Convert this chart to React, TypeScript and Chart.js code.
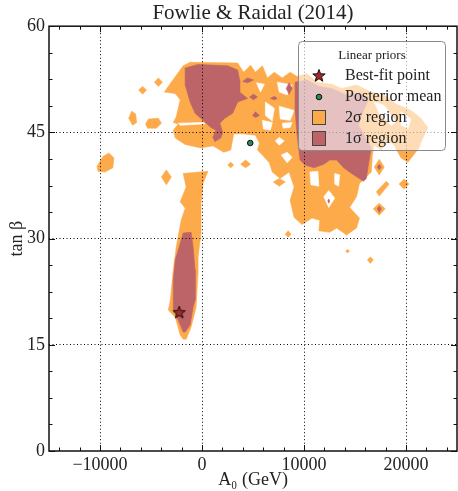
import React, { useEffect, useRef } from "react";
import { Chart, registerables } from "chart.js";

Chart.register(...registerables);

type Pt = [number, number];

// ---- axis ticks ----
const xMajorTicks = [-10000, 0, 10000, 20000];
const yMajorTicks = [0, 15, 30, 45, 60];
const xMinorStep = 2000;
const yMinorStep = 3.75;

// ---- markers ----
const bestFit: Pt = [-2233, 19.6];
const posteriorMean: Pt = [4730, 43.5];

// ---- 2 sigma region (orange) ----
const sigma2Main: Pt[] = [
  [-3690, 50.7], [-3010, 52.1], [-1845, 54.4], [-1165, 54.9], [3495, 54.8], [4078, 53.5],
  [4757, 54.5], [5243, 53.5], [5922, 54.4], [6408, 52.7], [7088, 53.5], [7864, 52.7],
  [8641, 53.5], [9320, 52.9], [10291, 53.3], [11262, 52.1], [12719, 51.8], [13690, 51.2],
  [15146, 51.7], [16602, 50.7], [18059, 50.1], [19030, 49.0], [20486, 48.1], [21457, 47.0],
  [22136, 45.7], [21554, 43.9], [21263, 42.8], [20194, 40.8], [19515, 41.4], [18835, 43.2],
  [18253, 43.9], [17573, 42.5], [16894, 43.2], [16700, 41.8], [16602, 39.4], [15437, 37.8],
  [15146, 35.9], [14466, 34.4], [15437, 32.9], [15146, 31.5], [14175, 30.5], [13204, 31.5],
  [12524, 30.9], [11456, 31.1], [11553, 32.6], [10777, 32.9], [9806, 32.0], [9029, 33.0],
  [8641, 35.4], [9029, 37.3], [8544, 39.4], [7670, 38.5], [6893, 39.4], [6602, 40.7],
  [5922, 41.8], [5437, 42.5], [5631, 43.5], [5243, 44.6], [3981, 44.8], [3107, 44.8],
  [2816, 42.5], [2136, 42.2], [1068, 43.1], [-97, 42.8], [-1650, 43.3], [-2621, 44.2],
  [-2816, 45.3], [-2330, 46.2], [-2816, 46.4], [-2524, 47.2], [-2136, 49.6], [-2621, 50.5],
];

const sigma2Tail: Pt[] = [
  [-1845, 39.2], [-1553, 37.3], [-2136, 35.2], [-1650, 34.3], [-2039, 32.6], [-2524, 28.8],
  [-2816, 25.6], [-3107, 21.3], [-3301, 19.9], [-2621, 18.9], [-2136, 16.4], [-1845, 15.8],
  [-1553, 15.8], [-1068, 17.5], [-583, 20.3], [-388, 25.1], [-388, 27.4], [-97, 30.8],
  [-97, 35.0], [97, 37.8], [583, 39.5],
];

const sigma2Islands: Pt[][] = [
  [[-10291, 40.2], [-9709, 41.6], [-9126, 42.1], [-8641, 41.4], [-8738, 40.0], [-9515, 39.4], [-10194, 39.5]],
  [[-7185, 47.0], [-6893, 48.0], [-6505, 47.6], [-6408, 46.4], [-6796, 46.0]],
  [[-5534, 46.2], [-5243, 46.9], [-4272, 47.0], [-3981, 46.3], [-4466, 45.6], [-5340, 45.6]],
  [[-3981, 38.7], [-3495, 39.7], [-3010, 38.7], [-3495, 37.6]],
  [[-6214, 51.0], [-5825, 51.5], [-5437, 51.0], [-5825, 50.4]],
  [[-4660, 52.1], [-4272, 52.7], [-3884, 52.1], [-4272, 51.5]],
  [[3786, 40.5], [4272, 41.1], [4757, 40.5], [4272, 40.0]],
  [[6990, 38.0], [7573, 38.5], [8156, 38.0], [7573, 37.4]],
  [[2524, 40.4], [2816, 40.8], [3107, 40.4], [2816, 40.0]],
  [[8156, 30.6], [8447, 31.1], [8738, 30.6], [8447, 30.2]],
  [[14078, 28.2], [14272, 28.5], [14466, 28.2], [14272, 28.0]],
  [[16214, 27.0], [16505, 27.4], [16797, 27.0], [16505, 26.5]],
  [[16894, 40.1], [17379, 41.2], [17865, 40.1], [17379, 39.0]],
  [[19321, 37.7], [19806, 38.4], [20292, 37.7], [19806, 37.0]],
  [[16797, 34.2], [17379, 35.0], [17962, 34.2], [17379, 33.3]],
  [[17088, 36.6], [18059, 38.1], [18350, 37.7], [17379, 36.0]],
];

// ---- gaps inside the 2 sigma region ----
const sigma2Gaps: Pt[][] = [
  [[-2330, 46.3], [97, 46.4], [291, 46.2], [-2136, 46.0]],
  [[5340, 52.0], [5728, 50.7], [6117, 51.8]],
  [[7379, 52.1], [8835, 51.7], [8350, 50.3], [7573, 50.7]],
  [[6214, 49.3], [7088, 48.4], [6893, 46.6], [6214, 47.4]],
  [[7573, 48.7], [9029, 48.1], [8641, 46.7], [7670, 46.9]],
  [[5922, 46.7], [6893, 46.4], [6699, 45.3], [6020, 45.5]],
  [[7864, 46.3], [8835, 46.4], [8641, 45.7], [7961, 45.6]],
  [[7185, 43.8], [7573, 44.3], [8059, 43.8], [7573, 43.2]],
  [[7767, 41.8], [8350, 42.2], [8835, 41.5], [8350, 40.7]],
  [[10583, 39.4], [11359, 39.5], [11456, 37.4], [10680, 37.6]],
  [[13010, 39.2], [13496, 39.0], [13399, 37.4], [13010, 37.7]],
  [[11942, 35.9], [12428, 36.8], [13010, 35.7], [12428, 34.4]],
  [[16894, 49.3], [17865, 48.8], [19030, 46.5], [18544, 46.0], [17379, 47.7]],
  [[19515, 47.9], [20486, 46.9], [20194, 45.5], [19515, 46.0]],
];

// ---- 1 sigma region (dark red) ----
const sigma1Upper: Pt[] = [
  [-1650, 54.1], [-388, 54.6], [2524, 54.4], [3495, 53.8], [3690, 52.4], [3690, 50.7],
  [4466, 49.8], [3495, 49.3], [3010, 47.7], [2233, 47.0], [1748, 46.3], [2039, 45.0],
  [1845, 44.2], [1262, 43.7], [1068, 44.3], [1359, 45.3], [874, 45.7], [97, 46.7],
  [-680, 47.7], [-1165, 49.3], [-1650, 51.7],
];

const sigma1Tail: Pt[] = [
  [-1845, 30.8], [-1068, 30.9], [-874, 28.8], [-680, 25.6], [-680, 21.3], [-874, 20.3],
  [-1165, 17.8], [-1650, 16.8], [-1845, 16.8], [-2330, 18.5], [-2816, 19.9], [-2816, 24.1],
  [-2621, 27.0], [-2330, 28.4],
];

const sigma1Right: Pt[] = [
  [9126, 52.1], [10291, 52.4], [11456, 51.5], [12719, 51.2], [14175, 50.3], [15631, 50.5],
  [16311, 49.6], [15631, 47.4], [15340, 46.0], [15922, 44.6], [16602, 42.8], [16311, 40.4],
  [16117, 38.5], [15825, 38.1], [14661, 39.2], [13884, 40.0], [13204, 41.1], [12524, 41.1],
  [11942, 40.5], [10971, 40.0], [10097, 40.4], [9612, 41.1], [9320, 44.6], [9126, 48.1],
];

const sigma1Spots: Pt[][] = [
  [[3981, 52.2], [4466, 52.7], [5049, 52.4], [4466, 52.0]],
  [[4660, 50.0], [5049, 50.4], [5437, 50.0], [5049, 49.6]],
  [[4952, 47.4], [5243, 47.9], [5631, 47.4], [5243, 47.1]],
  [[6699, 49.8], [7088, 50.1], [7379, 49.8], [7088, 49.6]],
  [[8253, 51.2], [8544, 52.0], [8835, 51.2], [8544, 50.4]],
  [[17185, 40.1], [17379, 40.5], [17573, 40.1], [17379, 39.7]],
  [[17185, 34.2], [17379, 34.6], [17573, 34.2], [17379, 33.7]],
  [[12330, 35.3], [12428, 35.6], [12525, 35.3], [12428, 35.0]],
];

const ORANGE = "#FDAA4A";
const DARK = "#BD6468";
const STAR = "#A82828";
const GREEN = "#2A8A55";
const SERIF = '"Liberation Serif", "DejaVu Serif", serif';

function starPath(ctx: CanvasRenderingContext2D, cx: number, cy: number, R: number, r: number) {
  ctx.beginPath();
  for (let i = 0; i < 10; i++) {
    const a = -Math.PI / 2 + (i * Math.PI) / 5;
    const rad = i % 2 === 0 ? R : r;
    const px = cx + rad * Math.cos(a);
    const py = cy + rad * Math.sin(a);
    if (i === 0) ctx.moveTo(px, py);
    else ctx.lineTo(px, py);
  }
  ctx.closePath();
}

function polyDataset(pts: Pt[], color: string, order: number) {
  const data = pts.concat([pts[0]]).map(([x, y]) => ({ x, y }));
  return {
    data,
    showLine: true,
    fill: "shape" as const,
    backgroundColor: color,
    borderColor: color,
    borderWidth: 0.6,
    pointRadius: 0,
    pointHoverRadius: 0,
    tension: 0,
    order,
  };
}

const framePlugin = {
  id: "frameAndLegend",
  afterDraw(chart: any) {
    const { ctx, chartArea } = chart;
    const xs = chart.scales.x;
    const ys = chart.scales.y;
    const { left, right, top, bottom } = chartArea;
    ctx.save();
    // ticks (inward)
    ctx.strokeStyle = "#111";
    ctx.lineWidth = 1;
    const xMin = xs.min, xMax = xs.max, yMin = ys.min, yMax = ys.max;
    for (let v = Math.ceil(xMin / xMinorStep) * xMinorStep; v <= xMax; v += xMinorStep) {
      const major = xMajorTicks.includes(v);
      const len = major ? 6 : 3.5;
      const px = Math.round(xs.getPixelForValue(v)) + 0.5;
      ctx.beginPath();
      ctx.moveTo(px, bottom);
      ctx.lineTo(px, bottom - len);
      ctx.moveTo(px, top);
      ctx.lineTo(px, top + len);
      ctx.stroke();
    }
    for (let i = 0; yMin + i * yMinorStep <= yMax + 1e-9; i++) {
      const v = yMin + i * yMinorStep;
      const major = yMajorTicks.includes(v);
      const len = major ? 6 : 3.5;
      const py = Math.round(ys.getPixelForValue(v)) + 0.5;
      ctx.beginPath();
      ctx.moveTo(left, py);
      ctx.lineTo(left + len, py);
      ctx.moveTo(right, py);
      ctx.lineTo(right - len, py);
      ctx.stroke();
    }
    // frame
    ctx.lineWidth = 1.5;
    ctx.strokeStyle = "#111";
    ctx.strokeRect(left, top, right - left, bottom - top);

    // legend
    const lx = 298.5, ly = 41.5, lw = 147, lh = 109;
    ctx.beginPath();
    ctx.roundRect(lx, ly, lw, lh, 4);
    ctx.fillStyle = "rgba(255,255,255,0.6)";
    ctx.fill();
    ctx.lineWidth = 1;
    ctx.strokeStyle = "#8a8a8a";
    ctx.stroke();

    ctx.fillStyle = "#222";
    ctx.font = `13px ${SERIF}`;
    ctx.textAlign = "center";
    ctx.textBaseline = "middle";
    ctx.fillText("Linear priors", 372, 56);

    const mx = 319;
    const tx = 345;
    const rows = [76, 97, 117.5, 138.5];
    // star
    starPath(ctx, mx, rows[0], 6.5, 2.7);
    ctx.fillStyle = STAR;
    ctx.fill();
    ctx.strokeStyle = "#111";
    ctx.lineWidth = 1;
    ctx.stroke();
    // posterior mean
    ctx.beginPath();
    ctx.arc(mx, rows[1], 2.8, 0, Math.PI * 2);
    ctx.fillStyle = GREEN;
    ctx.fill();
    ctx.stroke();
    // squares
    ctx.fillStyle = ORANGE;
    ctx.fillRect(312.5, 110.5, 13, 14);
    ctx.strokeStyle = "#444";
    ctx.strokeRect(312.5, 110.5, 13, 14);
    ctx.fillStyle = DARK;
    ctx.fillRect(312.5, 131.5, 13, 14);
    ctx.strokeRect(312.5, 131.5, 13, 14);

    ctx.fillStyle = "#222";
    ctx.font = `16px ${SERIF}`;
    ctx.textAlign = "left";
    ctx.fillText("Best-fit point", tx, rows[0]);
    ctx.fillText("Posterior mean", tx, rows[1]);
    ctx.fillText("2\u03c3 region", tx, rows[2]);
    ctx.fillText("1\u03c3 region", tx, rows[3]);
    ctx.restore();
  },
};

export default function App() {
  const ref = useRef<HTMLCanvasElement | null>(null);

  useEffect(() => {
    const canvas = ref.current;
    if (!canvas) return;

    const starImg = document.createElement("canvas");
    starImg.width = 16;
    starImg.height = 16;
    const sctx = starImg.getContext("2d")!;
    starPath(sctx, 8, 8.5, 6.5, 2.7);
    sctx.fillStyle = STAR;
    sctx.fill();
    sctx.strokeStyle = "#111";
    sctx.lineWidth = 1;
    sctx.stroke();

    const datasets: any[] = [
      {
        data: [{ x: bestFit[0], y: bestFit[1] }],
        pointStyle: starImg,
        pointRadius: 8,
        order: 0,
      },
      {
        data: [{ x: posteriorMean[0], y: posteriorMean[1] }],
        pointStyle: "circle",
        pointRadius: 2.8,
        backgroundColor: GREEN,
        borderColor: "#111",
        borderWidth: 1,
        order: 0,
      },
      polyDataset(sigma1Upper, DARK, 1),
      polyDataset(sigma1Tail, DARK, 1),
      polyDataset(sigma1Right, DARK, 1),
      ...sigma1Spots.map((p) => polyDataset(p, DARK, 1)),
      ...sigma2Gaps.map((p) => polyDataset(p, "#ffffff", 2)),
      ...sigma2Islands.map((p) => polyDataset(p, ORANGE, 3)),
      polyDataset(sigma2Tail, ORANGE, 4),
      polyDataset(sigma2Main, ORANGE, 4),
    ];

    const fmt = (v: number) => (v < 0 ? "\u2212" + Math.abs(v) : String(v));

    const chart = new Chart(canvas, {
      type: "scatter",
      data: { datasets },
      options: {
        animation: false,
        responsive: false,
        devicePixelRatio: 1,
        events: [],
        layout: { padding: { left: 0, right: 4.5, top: 0, bottom: 0 } },
        plugins: {
          legend: { display: false },
          tooltip: { enabled: false },
          title: {
            display: true,
            text: "Fowlie & Raidal (2014)",
            fullSize: false,
            color: "#222",
            font: { family: SERIF, size: 21, weight: "normal" },
            padding: { top: 1, bottom: 0 },
          },
        },
        scales: {
          x: {
            type: "linear",
            min: -15000,
            max: 25000,
            afterBuildTicks: (s: any) => {
              s.ticks = xMajorTicks.map((v) => ({ value: v }));
            },
            afterFit: (s: any) => {
              s.height = 40;
            },
            ticks: {
              callback: (v: any) => fmt(Number(v)),
              color: "#222",
              font: { family: SERIF, size: 18 },
              padding: 3,
              maxRotation: 0,
              autoSkip: false,
            },
            grid: {
              color: "#000",
              lineWidth: 1,
              drawTicks: false,
              z: 1,
            },
            border: { display: false, dash: [1, 2.5] },
            title: {
              display: true,
              text: "A\u2080 (GeV)",
              color: "#222",
              font: { family: SERIF, size: 18 },
              padding: { top: 0, bottom: 0 },
            },
          },
          y: {
            type: "linear",
            min: 0,
            max: 60,
            afterBuildTicks: (s: any) => {
              s.ticks = yMajorTicks.map((v) => ({ value: v }));
            },
            afterFit: (s: any) => {
              s.width = 49;
            },
            ticks: {
              callback: (v: any) => fmt(Number(v)),
              color: "#222",
              font: { family: SERIF, size: 18 },
              padding: 4,
              autoSkip: false,
            },
            grid: {
              color: (c: any) =>
                c.tick && (c.tick.value === 0 || c.tick.value === 60) ? "rgba(0,0,0,0)" : "#000",
              lineWidth: 1,
              drawTicks: false,
              z: 1,
            },
            border: { display: false, dash: [1, 2.5] },
            title: {
              display: true,
              text: "tan \u03b2",
              color: "#222",
              font: { family: SERIF, size: 18 },
              padding: { top: 6, bottom: 0 },
            },
          },
        },
      } as any,
      plugins: [framePlugin],
    });

    return () => chart.destroy();
  }, []);

  return (
    <div
      style={{
        position: "fixed",
        left: 0,
        top: 0,
        width: 458,
        height: 491,
        overflow: "hidden",
        background: "#fff",
      }}
    >
      <canvas ref={ref} width={466} height={491} style={{ display: "block" }} />
    </div>
  );
}
